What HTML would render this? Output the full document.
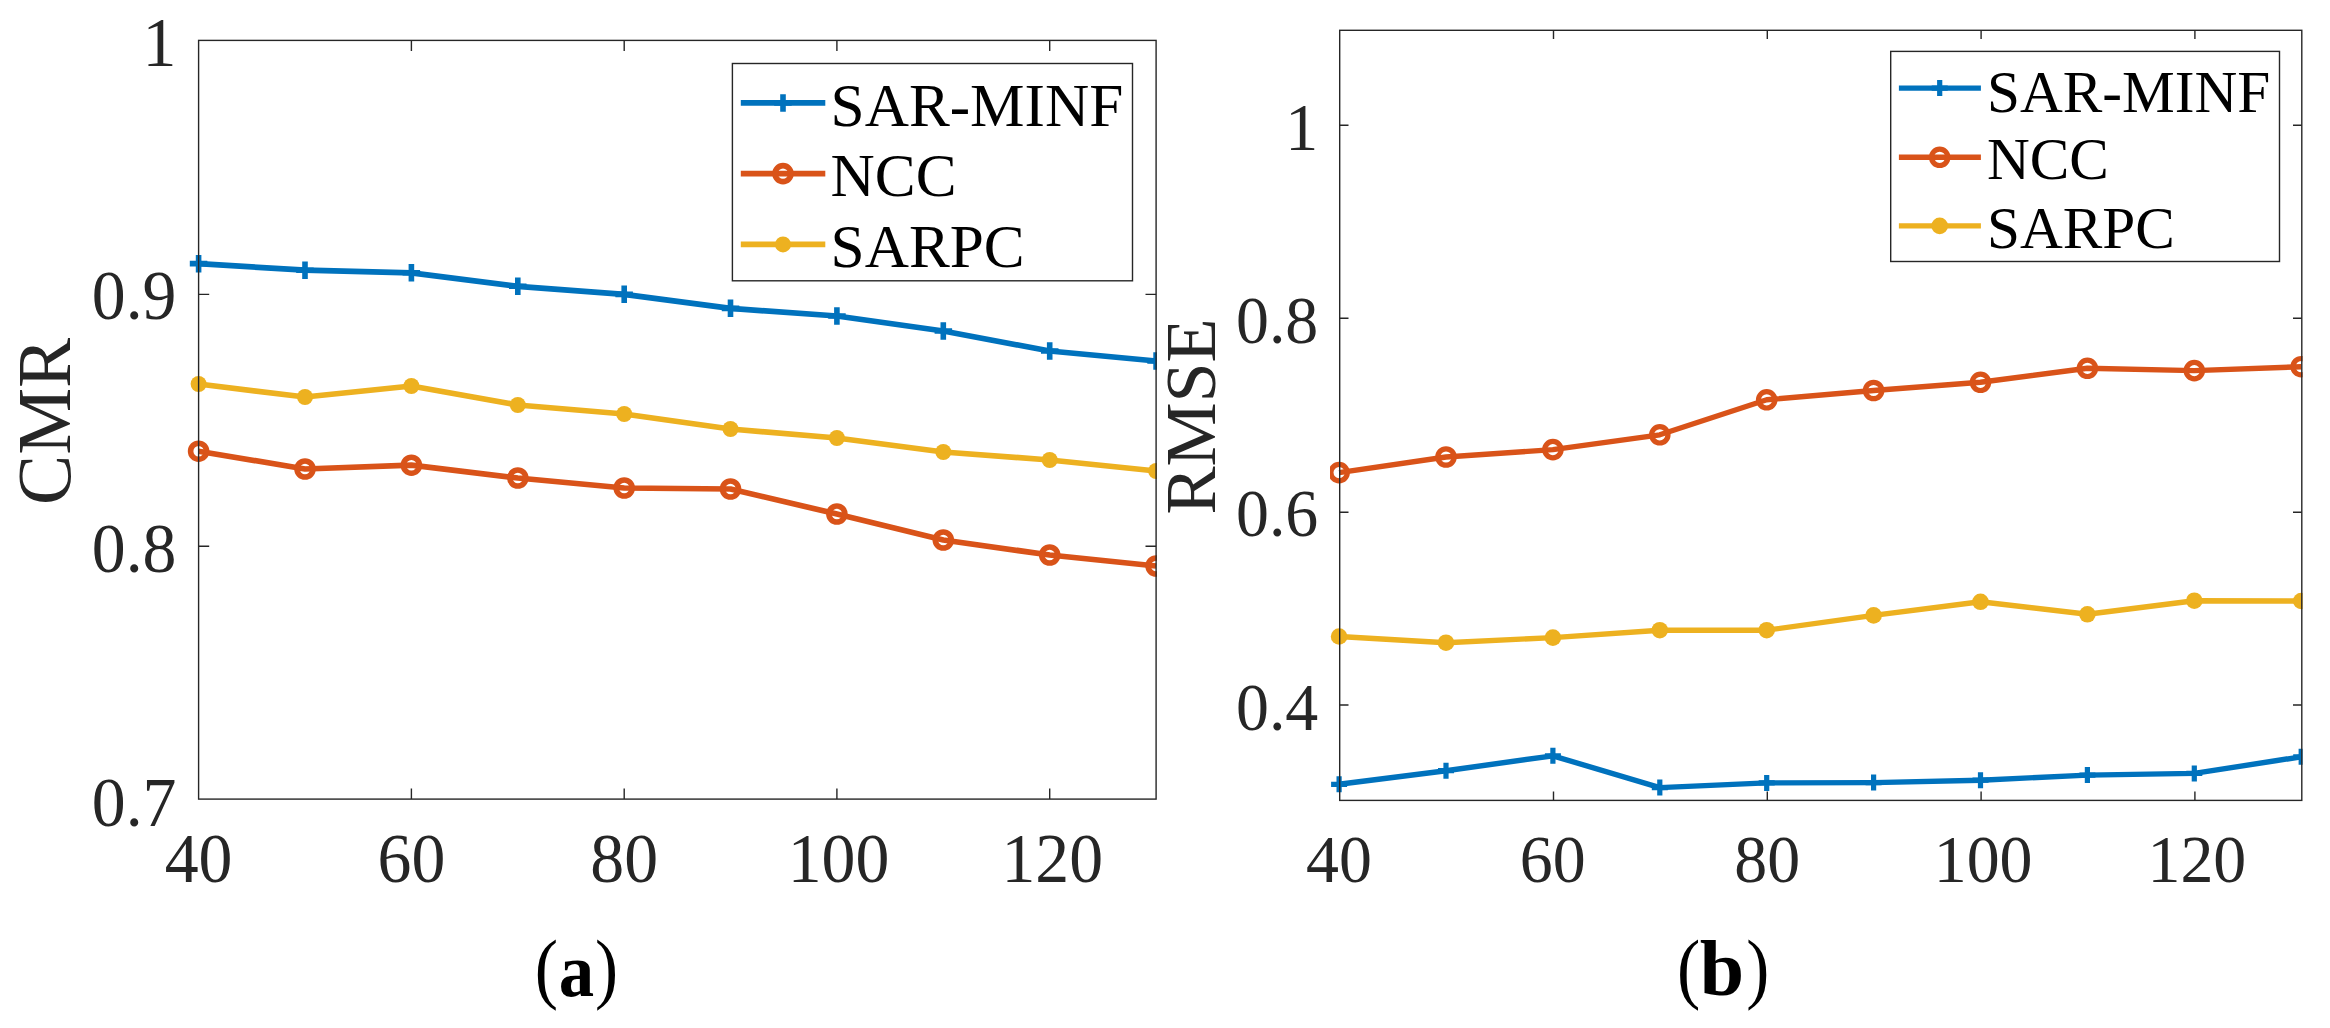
<!DOCTYPE html>
<html lang="en"><head><meta charset="utf-8"><title>CMR and RMSE comparison</title>
<style>
html,body{margin:0;padding:0;background:#fff;}
body{width:2330px;height:1028px;overflow:hidden;}
svg{display:block;}
</style></head><body>
<svg width="2330" height="1028" viewBox="0 0 2330 1028">
<rect width="2330" height="1028" fill="#fff"/>
<clipPath id="clip1"><rect x="0" y="0" width="1156.9" height="1028"/></clipPath>
<g clip-path="url(#clip1)">
<polyline points="198.6,263.6 305.0,270.2 411.4,272.8 517.8,286.3 624.2,294.4 730.5,308.4 836.9,316.0 943.3,331.0 1049.7,351.0 1156.1,361.0" fill="none" stroke="#0072BD" stroke-width="5.7" stroke-linejoin="round"/>
<path d="M189.8,263.6h17.5M198.6,254.9v17.5" stroke="#0072BD" stroke-width="5.6" fill="none"/>
<path d="M296.2,270.2h17.5M305.0,261.4v17.5" stroke="#0072BD" stroke-width="5.6" fill="none"/>
<path d="M402.6,272.8h17.5M411.4,264.1v17.5" stroke="#0072BD" stroke-width="5.6" fill="none"/>
<path d="M509.0,286.3h17.5M517.8,277.6v17.5" stroke="#0072BD" stroke-width="5.6" fill="none"/>
<path d="M615.4,294.4h17.5M624.2,285.6v17.5" stroke="#0072BD" stroke-width="5.6" fill="none"/>
<path d="M721.8,308.4h17.5M730.5,299.6v17.5" stroke="#0072BD" stroke-width="5.6" fill="none"/>
<path d="M828.2,316.0h17.5M836.9,307.2v17.5" stroke="#0072BD" stroke-width="5.6" fill="none"/>
<path d="M934.6,331.0h17.5M943.3,322.2v17.5" stroke="#0072BD" stroke-width="5.6" fill="none"/>
<path d="M1041.0,351.0h17.5M1049.7,342.2v17.5" stroke="#0072BD" stroke-width="5.6" fill="none"/>
<path d="M1147.3,361.0h17.5M1156.1,352.2v17.5" stroke="#0072BD" stroke-width="5.6" fill="none"/>
<polyline points="198.6,451.2 305.0,469.0 411.4,465.2 517.8,478.0 624.2,488.0 730.5,489.0 836.9,514.0 943.3,540.0 1049.7,555.0 1156.1,566.0" fill="none" stroke="#D95319" stroke-width="5.7" stroke-linejoin="round"/>
<circle cx="198.6" cy="451.2" r="8" fill="none" stroke="#D95319" stroke-width="5.6"/>
<circle cx="305.0" cy="469.0" r="8" fill="none" stroke="#D95319" stroke-width="5.6"/>
<circle cx="411.4" cy="465.2" r="8" fill="none" stroke="#D95319" stroke-width="5.6"/>
<circle cx="517.8" cy="478.0" r="8" fill="none" stroke="#D95319" stroke-width="5.6"/>
<circle cx="624.2" cy="488.0" r="8" fill="none" stroke="#D95319" stroke-width="5.6"/>
<circle cx="730.5" cy="489.0" r="8" fill="none" stroke="#D95319" stroke-width="5.6"/>
<circle cx="836.9" cy="514.0" r="8" fill="none" stroke="#D95319" stroke-width="5.6"/>
<circle cx="943.3" cy="540.0" r="8" fill="none" stroke="#D95319" stroke-width="5.6"/>
<circle cx="1049.7" cy="555.0" r="8" fill="none" stroke="#D95319" stroke-width="5.6"/>
<circle cx="1156.1" cy="566.0" r="8" fill="none" stroke="#D95319" stroke-width="5.6"/>
<polyline points="198.6,384.0 305.0,397.0 411.4,386.0 517.8,405.0 624.2,414.0 730.5,429.0 836.9,438.0 943.3,452.0 1049.7,460.0 1156.1,471.0" fill="none" stroke="#EDB120" stroke-width="5.7" stroke-linejoin="round"/>
<circle cx="198.6" cy="384.0" r="8" fill="#EDB120"/>
<circle cx="305.0" cy="397.0" r="8" fill="#EDB120"/>
<circle cx="411.4" cy="386.0" r="8" fill="#EDB120"/>
<circle cx="517.8" cy="405.0" r="8" fill="#EDB120"/>
<circle cx="624.2" cy="414.0" r="8" fill="#EDB120"/>
<circle cx="730.5" cy="429.0" r="8" fill="#EDB120"/>
<circle cx="836.9" cy="438.0" r="8" fill="#EDB120"/>
<circle cx="943.3" cy="452.0" r="8" fill="#EDB120"/>
<circle cx="1049.7" cy="460.0" r="8" fill="#EDB120"/>
<circle cx="1156.1" cy="471.0" r="8" fill="#EDB120"/>
</g>
<rect x="198.6" y="40.4" width="957.4999999999999" height="758.7" fill="none" stroke="#262626" stroke-width="1.4"/>
<path d="M411.4,799.1v-10.6M411.4,40.4v10.6M624.2,799.1v-10.6M624.2,40.4v10.6M836.9,799.1v-10.6M836.9,40.4v10.6M1049.7,799.1v-10.6M1049.7,40.4v10.6M198.6,546.2h10.6M1156.1,546.2h-10.6M198.6,294.4h10.6M1156.1,294.4h-10.6" stroke="#262626" stroke-width="1.4" fill="none"/>
<g font-family="Liberation Serif, serif" font-size="70.6" fill="#262626">
<text transform="translate(198.6,881.6) scale(0.96,1)" text-anchor="middle">40</text>
<text transform="translate(411.4,881.6) scale(0.96,1)" text-anchor="middle">60</text>
<text transform="translate(624.2,881.6) scale(0.96,1)" text-anchor="middle">80</text>
<text transform="translate(838.5,881.6) scale(0.96,1)" text-anchor="middle">100</text>
<text transform="translate(1052.2,881.6) scale(0.96,1)" text-anchor="middle">120</text>
<text transform="translate(176.5,826.0) scale(0.96,1)" text-anchor="end">0.7</text>
<text transform="translate(176.5,571.8) scale(0.96,1)" text-anchor="end">0.8</text>
<text transform="translate(176.5,318.9) scale(0.96,1)" text-anchor="end">0.9</text>
<text transform="translate(176.5,66.3) scale(0.96,1)" text-anchor="end">1</text>
<text transform="translate(70.3,505.0) rotate(-90) scale(0.99,1)" font-size="76">CMR</text>
</g>
<rect x="732.4" y="63.5" width="400.1" height="217.3" fill="#fff" stroke="#262626" stroke-width="1.4"/>
<line x1="740.8" x2="825.3" y1="102.9" y2="102.9" stroke="#0072BD" stroke-width="5.7"/>
<path d="M774.2,102.9h17.5M783.0,94.2v17.5" stroke="#0072BD" stroke-width="5.6" fill="none"/>
<text transform="translate(830.6,126.3) scale(0.988,1)" font-family="Liberation Serif, serif" font-size="62" fill="#000">SAR-MINF</text>
<line x1="740.8" x2="825.3" y1="173.6" y2="173.6" stroke="#D95319" stroke-width="5.7"/>
<circle cx="783.0" cy="173.6" r="8" fill="none" stroke="#D95319" stroke-width="5.6"/>
<text transform="translate(830.6,195.6) scale(0.988,1)" font-family="Liberation Serif, serif" font-size="62" fill="#000">NCC</text>
<line x1="740.8" x2="825.3" y1="244.4" y2="244.4" stroke="#EDB120" stroke-width="5.7"/>
<circle cx="783.0" cy="244.4" r="8" fill="#EDB120"/>
<text transform="translate(830.6,266.6) scale(0.988,1)" font-family="Liberation Serif, serif" font-size="62" fill="#000">SARPC</text>
<clipPath id="clip2"><rect x="1330" y="0" width="972.5999999999999" height="1028"/></clipPath>
<g clip-path="url(#clip2)">
<polyline points="1339.1,784.3 1446.0,770.7 1552.9,755.8 1659.8,787.6 1766.7,782.9 1873.6,782.6 1980.5,780.2 2087.4,775.1 2194.3,773.4 2301.2,756.8" fill="none" stroke="#0072BD" stroke-width="5.4" stroke-linejoin="round"/>
<path d="M1331.1,784.3h16.0M1339.1,776.3v16.0" stroke="#0072BD" stroke-width="5.2" fill="none"/>
<path d="M1438.0,770.7h16.0M1446.0,762.7v16.0" stroke="#0072BD" stroke-width="5.2" fill="none"/>
<path d="M1544.9,755.8h16.0M1552.9,747.8v16.0" stroke="#0072BD" stroke-width="5.2" fill="none"/>
<path d="M1651.8,787.6h16.0M1659.8,779.6v16.0" stroke="#0072BD" stroke-width="5.2" fill="none"/>
<path d="M1758.7,782.9h16.0M1766.7,774.9v16.0" stroke="#0072BD" stroke-width="5.2" fill="none"/>
<path d="M1865.6,782.6h16.0M1873.6,774.6v16.0" stroke="#0072BD" stroke-width="5.2" fill="none"/>
<path d="M1972.5,780.2h16.0M1980.5,772.2v16.0" stroke="#0072BD" stroke-width="5.2" fill="none"/>
<path d="M2079.4,775.1h16.0M2087.4,767.1v16.0" stroke="#0072BD" stroke-width="5.2" fill="none"/>
<path d="M2186.3,773.4h16.0M2194.3,765.4v16.0" stroke="#0072BD" stroke-width="5.2" fill="none"/>
<path d="M2293.2,756.8h16.0M2301.2,748.8v16.0" stroke="#0072BD" stroke-width="5.2" fill="none"/>
<polyline points="1339.1,472.6 1446.0,457.0 1552.9,449.6 1659.8,434.8 1766.7,399.8 1873.6,390.5 1980.5,382.3 2087.4,368.3 2194.3,370.6 2301.2,366.7" fill="none" stroke="#D95319" stroke-width="5.4" stroke-linejoin="round"/>
<circle cx="1339.1" cy="472.6" r="8.2" fill="none" stroke="#D95319" stroke-width="5.2"/>
<circle cx="1446.0" cy="457.0" r="8.2" fill="none" stroke="#D95319" stroke-width="5.2"/>
<circle cx="1552.9" cy="449.6" r="8.2" fill="none" stroke="#D95319" stroke-width="5.2"/>
<circle cx="1659.8" cy="434.8" r="8.2" fill="none" stroke="#D95319" stroke-width="5.2"/>
<circle cx="1766.7" cy="399.8" r="8.2" fill="none" stroke="#D95319" stroke-width="5.2"/>
<circle cx="1873.6" cy="390.5" r="8.2" fill="none" stroke="#D95319" stroke-width="5.2"/>
<circle cx="1980.5" cy="382.3" r="8.2" fill="none" stroke="#D95319" stroke-width="5.2"/>
<circle cx="2087.4" cy="368.3" r="8.2" fill="none" stroke="#D95319" stroke-width="5.2"/>
<circle cx="2194.3" cy="370.6" r="8.2" fill="none" stroke="#D95319" stroke-width="5.2"/>
<circle cx="2301.2" cy="366.7" r="8.2" fill="none" stroke="#D95319" stroke-width="5.2"/>
<polyline points="1339.1,636.5 1446.0,642.7 1552.9,637.6 1659.8,630.2 1766.7,630.2 1873.6,615.4 1980.5,601.8 2087.4,614.3 2194.3,600.7 2301.2,601.0" fill="none" stroke="#EDB120" stroke-width="5.4" stroke-linejoin="round"/>
<circle cx="1339.1" cy="636.5" r="8.3" fill="#EDB120"/>
<circle cx="1446.0" cy="642.7" r="8.3" fill="#EDB120"/>
<circle cx="1552.9" cy="637.6" r="8.3" fill="#EDB120"/>
<circle cx="1659.8" cy="630.2" r="8.3" fill="#EDB120"/>
<circle cx="1766.7" cy="630.2" r="8.3" fill="#EDB120"/>
<circle cx="1873.6" cy="615.4" r="8.3" fill="#EDB120"/>
<circle cx="1980.5" cy="601.8" r="8.3" fill="#EDB120"/>
<circle cx="2087.4" cy="614.3" r="8.3" fill="#EDB120"/>
<circle cx="2194.3" cy="600.7" r="8.3" fill="#EDB120"/>
<circle cx="2301.2" cy="601.0" r="8.3" fill="#EDB120"/>
</g>
<rect x="1339.7" y="30.3" width="962.1000000000001" height="770.1" fill="none" stroke="#262626" stroke-width="1.4"/>
<path d="M1553.5,800.4v-8.8M1553.5,30.3v8.8M1767.3,800.4v-8.8M1767.3,30.3v8.8M1981.1,800.4v-8.8M1981.1,30.3v8.8M2194.9,800.4v-8.8M2194.9,30.3v8.8M1339.7,705.0h8.8M2301.8,705.0h-8.8M1339.7,512.3h8.8M2301.8,512.3h-8.8M1339.7,318.3h8.8M2301.8,318.3h-8.8M1339.7,125.2h8.8M2301.8,125.2h-8.8" stroke="#262626" stroke-width="1.4" fill="none"/>
<g font-family="Liberation Serif, serif" font-size="68.2" fill="#262626">
<text transform="translate(1339.0,881.9) scale(0.966,1)" text-anchor="middle">40</text>
<text transform="translate(1552.8,881.9) scale(0.966,1)" text-anchor="middle">60</text>
<text transform="translate(1767.3,881.9) scale(0.966,1)" text-anchor="middle">80</text>
<text transform="translate(1983.1,881.9) scale(0.966,1)" text-anchor="middle">100</text>
<text transform="translate(2196.9,881.9) scale(0.966,1)" text-anchor="middle">120</text>
<text transform="translate(1318.3,729.9) scale(0.966,1)" text-anchor="end">0.4</text>
<text transform="translate(1318.3,535.9) scale(0.966,1)" text-anchor="end">0.6</text>
<text transform="translate(1318.3,342.8) scale(0.966,1)" text-anchor="end">0.8</text>
<text transform="translate(1318.3,149.5) scale(0.966,1)" text-anchor="end">1</text>
<text transform="translate(1214.8,514.6) rotate(-90) scale(0.99,1)" font-size="72.8">RMSE</text>
</g>
<rect x="1890.7" y="51.4" width="388.79999999999995" height="210.1" fill="#fff" stroke="#262626" stroke-width="1.4"/>
<line x1="1898.9" x2="1980.9" y1="88.1" y2="88.1" stroke="#0072BD" stroke-width="5.4"/>
<path d="M1931.7,88.1h16.0M1939.7,80.1v16.0" stroke="#0072BD" stroke-width="5.2" fill="none"/>
<text transform="translate(1987,112.4) scale(0.988,1)" font-family="Liberation Serif, serif" font-size="60" fill="#000">SAR-MINF</text>
<line x1="1898.9" x2="1980.9" y1="157.3" y2="157.3" stroke="#D95319" stroke-width="5.4"/>
<circle cx="1939.7" cy="157.3" r="8.2" fill="none" stroke="#D95319" stroke-width="5.2"/>
<text transform="translate(1987,178.6) scale(0.988,1)" font-family="Liberation Serif, serif" font-size="60" fill="#000">NCC</text>
<line x1="1898.9" x2="1980.9" y1="225.9" y2="225.9" stroke="#EDB120" stroke-width="5.4"/>
<circle cx="1939.7" cy="225.9" r="8.3" fill="#EDB120"/>
<text transform="translate(1987,248.1) scale(0.988,1)" font-family="Liberation Serif, serif" font-size="60" fill="#000">SARPC</text>
<g font-family="Liberation Serif, serif" fill="#000">
<text transform="translate(534.8,994.3) scale(0.900,1)" font-size="77.6" font-weight="normal">(</text>
<text transform="translate(558.8,995.5) scale(0.939,1)" font-size="75.4" font-weight="bold">a</text>
<text transform="translate(595.0,994.3) scale(0.892,1)" font-size="77.6" font-weight="normal">)</text>
<text transform="translate(1677.0,994.3) scale(0.900,1)" font-size="77.6" font-weight="normal">(</text>
<text transform="translate(1699.7,995.1) scale(1.014,1)" font-size="78.7" font-weight="bold">b</text>
<text transform="translate(1746.2,994.3) scale(0.892,1)" font-size="77.6" font-weight="normal">)</text>
</g>
</svg>
</body></html>
